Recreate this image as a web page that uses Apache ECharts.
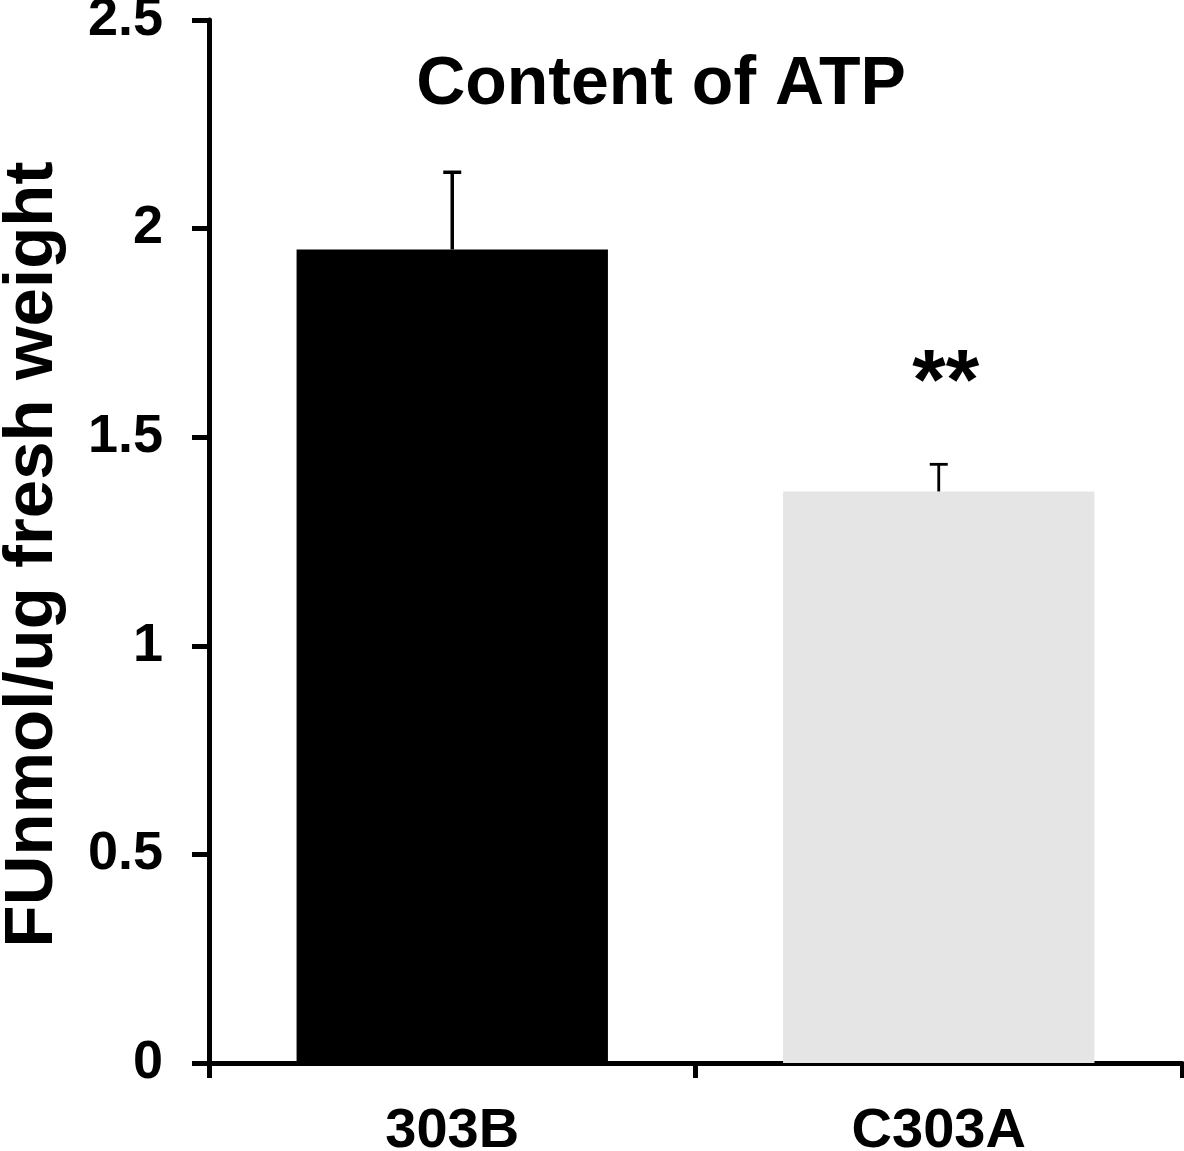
<!DOCTYPE html>
<html>
<head>
<meta charset="utf-8">
<script src="https://cdn.jsdelivr.net/npm/echarts@6/dist/echarts.min.js"></script>
<style>
html,body{margin:0;padding:0;background:#fff;}
#chart{width:1184px;height:1151px;}
</style>
</head>
<body>
<div id="chart"></div>
<script>
var categories = ['303B', 'C303A'];
var means = [1.95, 1.37];
var errors = [0.185, 0.065];
var significance = ['', '**'];
var barColors = ['#000000', '#e5e5e5'];
var yTicks = [0, 0.5, 1, 1.5, 2, 2.5];

var FONT = '"Liberation Sans", Arial, Helvetica, sans-serif';

var chart = echarts.init(document.getElementById('chart'), null, {renderer: 'canvas'});

var errData = categories.map(function (c, i) { return [i, means[i], errors[i]]; });

var option = {
  backgroundColor: '#ffffff',
  animation: false,
  title: {
    text: 'Content of ATP',
    left: 656,
    textAlign: 'center',
    top: 46,
    textStyle: {fontFamily: FONT, fontWeight: 'bold', fontSize: 68, color: '#000'}
  },
  grid: {left: 209, right: 2, top: 20, bottom: 88, containLabel: false, outerBoundsMode: 'none'},
  xAxis: {
    type: 'category',
    data: categories,
    axisLine: {lineStyle: {color: '#000', width: 5}},
    axisTick: {show: true, length: 15, lineStyle: {color: '#000', width: 5}},
    axisLabel: {fontFamily: FONT, fontWeight: 'bold', fontSize: 56, color: '#000', margin: 41}
  },
  yAxis: {
    type: 'value',
    min: 0,
    max: 2.5,
    interval: 0.5,
    name: 'FUnmol/ug fresh weight',
    nameLocation: 'middle',
    nameGap: 142,
    nameTextStyle: {fontFamily: FONT, fontWeight: 'bold', fontSize: 69, color: '#000', padding: [0, 26, 0, 0]},
    splitLine: {show: false},
    axisLine: {show: true, lineStyle: {color: '#000', width: 5}},
    axisTick: {show: true, length: 17, lineStyle: {color: '#000', width: 5}},
    axisLabel: {
      fontFamily: FONT, fontWeight: 'bold', fontSize: 54, color: '#000', margin: 46,
      padding: [5, 0, 0, 0],
      formatter: function (v) { return String(v); }
    }
  },
  series: [
    {
      type: 'bar',
      data: means.map(function (v, i) { return {value: v, itemStyle: {color: barColors[i]}}; }),
      barCategoryGap: '36%',
      z: 2
    },
    {
      type: 'custom',
      data: errData,
      z: 3,
      renderItem: function (params, api) {
        var x = api.value(0);
        var m = api.value(1);
        var e = api.value(2);
        var sig = significance[params.dataIndex];
        var p0 = api.coord([x, m]);
        var p1 = api.coord([x, m + e]);
        var lw = params.dataIndex === 0 ? 3.5 : 2.8;
        var children = [
          {type: 'line', shape: {x1: p0[0], y1: p0[1], x2: p1[0], y2: p1[1]}, style: {stroke: '#000', lineWidth: lw}},
          {type: 'line', shape: {x1: p1[0] - 9, y1: p1[1], x2: p1[0] + 9, y2: p1[1]}, style: {stroke: '#000', lineWidth: lw}}
        ];
        if (sig) {
          children.push({
            type: 'text',
            style: {
              text: sig, x: p1[0] + 7, y: p1[1] - 79,
              align: 'center', verticalAlign: 'middle',
              font: 'bold 86px ' + FONT, fill: '#000'
            }
          });
        }
        return {type: 'group', children: children};
      }
    }
  ]
};
chart.setOption(option);
</script>
</body>
</html>
